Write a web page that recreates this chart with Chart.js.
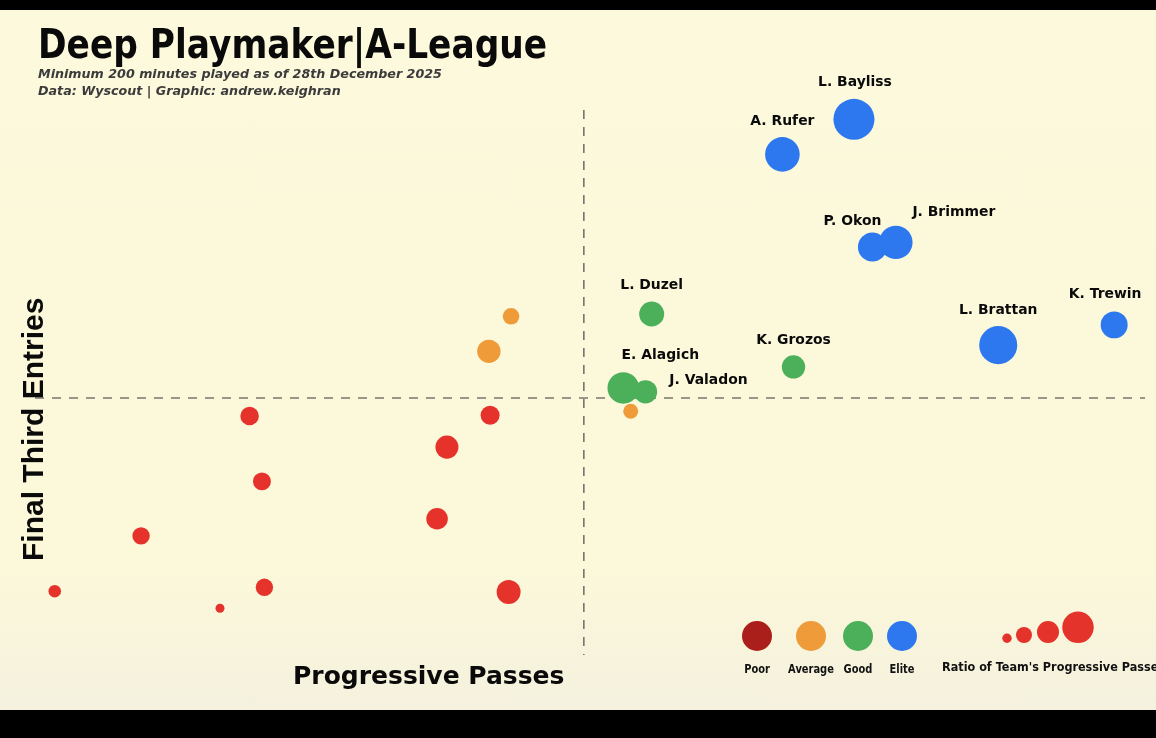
<!DOCTYPE html>
<html>
<head>
<meta charset="utf-8">
<script src="https://cdn.jsdelivr.net/npm/chart.js@4.4.1/dist/chart.umd.min.js"></script>
<style>
  body { margin: 0; background: #000; width: 1156px; height: 738px; overflow: hidden; }
  #wrap {
    position: absolute; left: 0; top: 10px; width: 1156px; height: 700px;
    background: linear-gradient(180deg, #fcf9dc 0%, #fcf8da 80%, #f4f1de 100%);
  }
  #chart { position: absolute; left: 0; top: 0; }
  .txt { position: absolute; white-space: nowrap; color: #0a0a0a; font-family: "DejaVu Sans", sans-serif; font-weight: bold; line-height: 1; }
  #title { left: 38px; top: 14px; font-size: 40px; transform: scaleX(0.86); transform-origin: left top; }
  .sub { left: 38px; font-size: 12.7px; font-style: italic; color: #3b3b3b; }
  #xTitle { left: 293px; top: 653px; font-size: 25px; }
  #yTitle { left: 18px; top: 551px; font-family: "Liberation Sans", Arial, sans-serif; font-size: 30px;
            transform: rotate(-90deg); transform-origin: left top; }
</style>
</head>
<body>
<div id="wrap">
  <canvas id="chart" width="1156" height="700"></canvas>
  <div id="title" class="txt">Deep Playmaker|A-League</div>
  <div class="txt sub" style="top:58px">Minimum 200 minutes played as of 28th December 2025</div>
  <div class="txt sub" style="top:75px">Data: Wyscout | Graphic: andrew.keighran</div>
  <div id="xTitle" class="txt">Progressive Passes</div>
  <div id="yTitle" class="txt">Final Third Entries</div>
</div>
<script>
// progressive passes (x), final third entries (y), share of team's progressive passes (%)
var poorX     = [2.16, 2.86, 3.50, 3.74, 3.84, 3.86, 5.26, 5.34, 5.69, 5.84];
var poorY     = [1.82, 2.53, 1.60, 4.07, 3.23, 1.87, 2.75, 3.67, 4.08, 1.81];
var poorShare = [5.7, 8.9, 3.3, 9.7, 9.3, 8.9, 11.7, 12.7, 10.0, 13.3];

var avgX     = [5.86, 5.68, 6.83];
var avgY     = [5.35, 4.90, 4.13];
var avgShare = [8.4, 12.9, 7.3];

var goodNames = ["L. Duzel", "E. Alagich", "J. Valadon", "K. Grozos"];
var goodX     = [7.00, 6.77, 6.95, 8.15];
var goodY     = [5.38, 4.43, 4.38, 4.70];
var goodShare = [14.0, 18.4, 12.9, 12.9];

var eliteNames = ["L. Bayliss", "A. Rufer", "P. Okon", "J. Brimmer", "L. Brattan", "K. Trewin"];
var eliteX     = [8.64, 8.06, 8.79, 8.98, 9.81, 10.75];
var eliteY     = [7.88, 7.43, 6.24, 6.30, 4.98, 5.24];
var eliteShare = [24.7, 20.4, 16.7, 19.6, 22.7, 15.3];

var avgPasses = 6.45;   // league average lines
var avgEntries = 4.30;

var tiers = ["Poor", "Average", "Good", "Elite"];
var tierColors = ["#ab1f1a", "#ef9b3a", "#4cb05a", "#2e78ef"];
var pointColors = ["#e5322a", "#ef9b3a", "#4cb05a", "#2e78ef"];
var sizeLegendShares = [3.6, 8, 12, 18.3];

// label offsets in pixels from the point centre
var labelOffset = {
  "L. Bayliss": [1, -37], "A. Rufer": [0, -33], "P. Okon": [-20, -26], "J. Brimmer": [58, -30],
  "L. Brattan": [0, -35], "K. Trewin": [-9, -31], "L. Duzel": [0, -29], "E. Alagich": [37, -33],
  "J. Valadon": [63, -12], "K. Grozos": [0, -27]
};

function pts(xs, ys, shares, names) {
  return xs.map(function(x, i) {
    return { x: x, y: ys[i], share: shares[i], name: names ? names[i] : null };
  });
}
function radius(share) { return 2 + share * 0.75; }

// narrower text, the original uses a Tahoma-like face
function squeezed(c, text, x, y, sx) {
  c.save();
  c.translate(x, y);
  c.scale(sx, 1);
  c.fillText(text, 0, 0);
  c.restore();
}

var quadrantLines = {
  id: 'quadrantLines',
  beforeDatasetsDraw: function(chart) {
    var c = chart.ctx, a = chart.chartArea;
    var xs = chart.scales.x, ys = chart.scales.y;
    c.save();
    c.strokeStyle = '#75756d';
    c.lineWidth = 1.6;
    c.setLineDash([9, 8]);
    var px = xs.getPixelForValue(avgPasses);
    c.beginPath(); c.moveTo(px, a.top); c.lineTo(px, a.bottom); c.stroke();
    var py = ys.getPixelForValue(avgEntries);
    c.beginPath(); c.moveTo(a.left, py); c.lineTo(a.right, py); c.stroke();
    c.restore();
  }
};

var labelsAndKey = {
  id: 'labelsAndKey',
  afterDatasetsDraw: function(chart) {
    var c = chart.ctx;
    c.save();
    c.fillStyle = '#0a0a0a';
    c.textAlign = 'center';
    c.textBaseline = 'middle';
    c.font = 'bold 14.5px "DejaVu Sans"';
    chart.data.datasets.forEach(function(ds, di) {
      var meta = chart.getDatasetMeta(di);
      ds.data.forEach(function(d, i) {
        if (!d.name) return;
        var el = meta.data[i], off = labelOffset[d.name] || [0, -30];
        squeezed(c, d.name, el.x + off[0], el.y + off[1], 0.96);
      });
    });

    // colour key
    var keyX = [757, 811, 858, 902];
    c.font = 'bold 11.5px "DejaVu Sans"';
    tiers.forEach(function(t, i) {
      c.fillStyle = tierColors[i];
      c.beginPath(); c.arc(keyX[i], 626, 15, 0, Math.PI * 2); c.fill();
      c.fillStyle = '#111';
      squeezed(c, t, keyX[i], 660, 0.86);
    });

    // size key
    var sx = [1007, 1024, 1048, 1078];
    sizeLegendShares.forEach(function(s, i) {
      var r = radius(s);
      c.fillStyle = '#e3332a';
      c.beginPath(); c.arc(sx[i], 633 - r, r, 0, Math.PI * 2); c.fill();
    });
    c.fillStyle = '#111';
    c.textAlign = 'left';
    c.font = 'bold 12.5px "DejaVu Sans"';
    squeezed(c, "Ratio of Team's Progressive Passes", 942, 658, 0.9);
    c.restore();
  }
};

var ctx = document.getElementById('chart').getContext('2d');
var chart = new Chart(ctx, {
  type: 'scatter',
  data: {
    datasets: [
      { label: 'Poor', data: pts(poorX, poorY, poorShare), backgroundColor: pointColors[0] },
      { label: 'Average', data: pts(avgX, avgY, avgShare), backgroundColor: pointColors[1] },
      { label: 'Good', data: pts(goodX, goodY, goodShare, goodNames), backgroundColor: pointColors[2] },
      { label: 'Elite', data: pts(eliteX, eliteY, eliteShare, eliteNames), backgroundColor: pointColors[3] }
    ]
  },
  options: {
    responsive: false,
    animation: false,
    events: [],
    layout: { autoPadding: false, padding: { left: 35, right: 11, top: 100, bottom: 55 } },
    elements: {
      point: {
        radius: function(c) { return radius(c.raw.share); },
        borderWidth: 0
      }
    },
    datasets: { scatter: { clip: false } },
    scales: {
      x: { type: 'linear', min: 2, max: 11, display: false },
      y: { type: 'linear', min: 1, max: 8, display: false }
    },
    plugins: { legend: { display: false }, tooltip: { enabled: false } }
  },
  plugins: [quadrantLines, labelsAndKey]
});
</script>
</body>
</html>
